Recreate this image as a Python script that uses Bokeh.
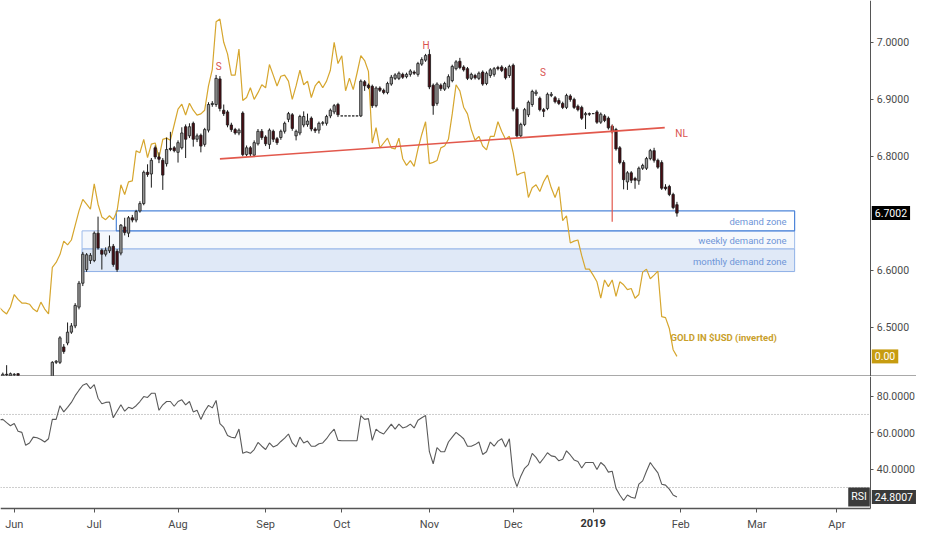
from bokeh.plotting import figure
from bokeh.models import (Range1d, FixedTicker, Label, Span, LinearAxis, ColumnDataSource,
                          PrintfTickFormatter)
from bokeh.layouts import column
from bokeh.embed import file_html
from bokeh.resources import INLINE

# ---------------- data (bar index 0 = 28 May 2018, one bar per weekday) ----------------
opens = [6.401, 6.411, 6.417, 6.414, 6.416, 6.418, 6.408, 6.401, 6.394, 6.398,
         6.392, 6.396, 6.400, 6.406, 6.408, 6.438, 6.438, 6.465, 6.472, 6.491,
         6.502, 6.535, 6.577, 6.601, 6.617, 6.617, 6.665, 6.635, 6.628, 6.634,
         6.642, 6.633, 6.630, 6.676, 6.665, 6.692, 6.688, 6.704, 6.717, 6.772,
         6.769, 6.815, 6.799, 6.793, 6.787, 6.814, 6.815, 6.807, 6.815, 6.852,
         6.836, 6.858, 6.830, 6.837, 6.821, 6.846, 6.891, 6.891, 6.936, 6.881,
         6.878, 6.855, 6.847, 6.841, 6.876, 6.803, 6.815, 6.802, 6.822, 6.844,
         6.834, 6.821, 6.844, 6.831, 6.833, 6.844, 6.865, 6.873, 6.836, 6.841,
         6.855, 6.856, 6.867, 6.848, 6.846, 6.858, 6.858, 6.871, 6.878, 6.891,
         6.871, 6.871, 6.871, 6.871, 6.871, 6.871, 6.931, 6.925, 6.923, 6.889,
         6.920, 6.916, 6.912, 6.927, 6.937, 6.937, 6.944, 6.940, 6.944, 6.948,
         6.944, 6.962, 6.969, 6.979, 6.925, 6.893, 6.925, 6.918, 6.922, 6.933,
         6.954, 6.967, 6.957, 6.954, 6.937, 6.942, 6.937, 6.948, 6.928, 6.942,
         6.944, 6.956, 6.957, 6.954, 6.942, 6.960, 6.883, 6.836, 6.856, 6.873,
         6.891, 6.910, 6.902, 6.882, 6.884, 6.907, 6.903, 6.898, 6.893, 6.886,
         6.906, 6.900, 6.888, 6.886, 6.873, 6.875, 6.875, 6.878, 6.860, 6.871,
         6.867, 6.853, 6.847, 6.815, 6.789, 6.755, 6.771, 6.761, 6.757, 6.779,
         6.779, 6.796, 6.810, 6.793, 6.789, 6.746, 6.747, 6.733, 6.715]
closes = [6.411, 6.417, 6.416, 6.418, 6.417, 6.415, 6.401, 6.394, 6.398, 6.392,
          6.396, 6.400, 6.406, 6.404, 6.438, 6.440, 6.481, 6.457, 6.491, 6.502,
          6.538, 6.577, 6.628, 6.627, 6.626, 6.665, 6.639, 6.628, 6.635, 6.641,
          6.610, 6.601, 6.679, 6.666, 6.692, 6.688, 6.703, 6.717, 6.772, 6.768,
          6.793, 6.799, 6.795, 6.767, 6.812, 6.812, 6.810, 6.824, 6.841, 6.830,
          6.852, 6.830, 6.836, 6.818, 6.847, 6.891, 6.893, 6.937, 6.884, 6.875,
          6.855, 6.847, 6.841, 6.846, 6.803, 6.815, 6.804, 6.824, 6.844, 6.833,
          6.822, 6.846, 6.830, 6.824, 6.844, 6.858, 6.875, 6.849, 6.844, 6.870,
          6.870, 6.862, 6.848, 6.845, 6.858, 6.859, 6.870, 6.881, 6.889, 6.873,
          6.871, 6.871, 6.871, 6.871, 6.871, 6.932, 6.924, 6.921, 6.889, 6.920,
          6.916, 6.912, 6.928, 6.939, 6.943, 6.946, 6.939, 6.944, 6.950, 6.946,
          6.963, 6.970, 6.977, 6.922, 6.889, 6.927, 6.919, 6.928, 6.940, 6.958,
          6.966, 6.956, 6.952, 6.937, 6.944, 6.938, 6.946, 6.927, 6.946, 6.952,
          6.954, 6.954, 6.951, 6.938, 6.958, 6.883, 6.836, 6.856, 6.882, 6.895,
          6.914, 6.913, 6.882, 6.879, 6.909, 6.909, 6.896, 6.893, 6.886, 6.907,
          6.900, 6.886, 6.882, 6.867, 6.875, 6.874, 6.875, 6.860, 6.874, 6.863,
          6.850, 6.843, 6.813, 6.789, 6.759, 6.771, 6.758, 6.758, 6.779, 6.784,
          6.796, 6.810, 6.793, 6.781, 6.744, 6.743, 6.733, 6.710, 6.7002]
highs = [6.414, 6.420, 6.433, 6.420, 6.419, 6.419, 6.410, 6.404, 6.402, 6.401,
         6.400, 6.404, 6.410, 6.409, 6.440, 6.442, 6.484, 6.470, 6.508, 6.507,
         6.542, 6.581, 6.632, 6.630, 6.630, 6.668, 6.694, 6.638, 6.640, 6.661,
         6.646, 6.637, 6.681, 6.692, 6.695, 6.697, 6.706, 6.721, 6.775, 6.786,
         6.797, 6.819, 6.807, 6.797, 6.833, 6.843, 6.818, 6.828, 6.851, 6.856,
         6.858, 6.861, 6.840, 6.840, 6.850, 6.895, 6.897, 6.943, 6.941, 6.891,
         6.881, 6.859, 6.850, 6.849, 6.879, 6.819, 6.818, 6.828, 6.848, 6.848,
         6.837, 6.849, 6.847, 6.834, 6.847, 6.861, 6.878, 6.876, 6.847, 6.873,
         6.879, 6.875, 6.870, 6.851, 6.861, 6.862, 6.873, 6.884, 6.892, 6.894,
         6.871, 6.871, 6.871, 6.871, 6.871, 6.935, 6.934, 6.928, 6.926, 6.923,
         6.923, 6.919, 6.931, 6.943, 6.946, 6.949, 6.947, 6.947, 6.953, 6.951,
         6.966, 6.974, 6.980, 6.988, 6.928, 6.930, 6.928, 6.931, 6.944, 6.961,
         6.969, 6.973, 6.960, 6.957, 6.947, 6.945, 6.949, 6.951, 6.949, 6.955,
         6.957, 6.959, 6.960, 6.957, 6.961, 6.963, 6.886, 6.859, 6.885, 6.898,
         6.917, 6.917, 6.905, 6.885, 6.912, 6.913, 6.906, 6.902, 6.896, 6.910,
         6.909, 6.903, 6.891, 6.889, 6.878, 6.877, 6.875, 6.881, 6.877, 6.874,
         6.870, 6.856, 6.850, 6.818, 6.793, 6.774, 6.774, 6.764, 6.782, 6.787,
         6.799, 6.813, 6.815, 6.796, 6.793, 6.751, 6.750, 6.736, 6.720]
lows = [6.396, 6.406, 6.408, 6.406, 6.408, 6.404, 6.394, 6.388, 6.390, 6.386,
        6.388, 6.391, 6.396, 6.399, 6.404, 6.435, 6.435, 6.453, 6.468, 6.488,
        6.498, 6.531, 6.572, 6.597, 6.611, 6.614, 6.636, 6.601, 6.624, 6.630,
        6.606, 6.597, 6.626, 6.661, 6.658, 6.684, 6.684, 6.701, 6.714, 6.764,
        6.745, 6.795, 6.788, 6.741, 6.782, 6.809, 6.807, 6.789, 6.812, 6.797,
        6.832, 6.817, 6.825, 6.807, 6.817, 6.842, 6.887, 6.887, 6.879, 6.871,
        6.851, 6.843, 6.838, 6.837, 6.800, 6.800, 6.800, 6.799, 6.819, 6.829,
        6.818, 6.813, 6.825, 6.820, 6.829, 6.840, 6.860, 6.845, 6.828, 6.837,
        6.851, 6.852, 6.844, 6.841, 6.840, 6.854, 6.854, 6.867, 6.874, 6.869,
        6.871, 6.871, 6.871, 6.871, 6.871, 6.869, 6.915, 6.918, 6.885, 6.886,
        6.913, 6.909, 6.909, 6.924, 6.934, 6.934, 6.936, 6.937, 6.940, 6.943,
        6.940, 6.959, 6.966, 6.918, 6.873, 6.889, 6.915, 6.915, 6.919, 6.930,
        6.951, 6.953, 6.949, 6.934, 6.934, 6.935, 6.934, 6.924, 6.925, 6.938,
        6.940, 6.951, 6.948, 6.935, 6.938, 6.879, 6.832, 6.833, 6.853, 6.869,
        6.887, 6.906, 6.879, 6.869, 6.881, 6.904, 6.893, 6.890, 6.883, 6.883,
        6.896, 6.883, 6.879, 6.864, 6.848, 6.871, 6.875, 6.857, 6.857, 6.860,
        6.847, 6.840, 6.810, 6.786, 6.742, 6.741, 6.753, 6.743, 6.750, 6.776,
        6.776, 6.793, 6.789, 6.778, 6.741, 6.740, 6.730, 6.707, 6.694]

gold_usd = [1292.7, 1294.4, 1295.7, 1292.7, 1287.3, 1289.4, 1291.0, 1291.0, 1291.5, 1293.6,
            1294.8, 1290.6, 1293.6, 1295.7, 1275.5, 1273.4, 1270.0, 1264.2, 1265.8, 1263.7,
            1257.4, 1251.1, 1246.1, 1248.2, 1250.3, 1239.4, 1248.2, 1253.7, 1254.9, 1253.2,
            1254.9, 1251.1, 1239.8, 1244.0, 1238.5, 1238.1, 1225.1, 1225.9, 1220.1, 1228.0,
            1222.2, 1221.7, 1228.0, 1220.1, 1219.6, 1220.5, 1213.8, 1207.0, 1204.9, 1209.6,
            1204.5, 1207.5, 1209.6, 1209.1, 1207.5, 1197.0, 1189.8, 1169.2, 1168.0, 1178.1,
            1183.1, 1192.3, 1192.3, 1181.0, 1203.3, 1202.0, 1197.8, 1202.8, 1199.9, 1196.5,
            1197.8, 1187.7, 1192.3, 1197.0, 1192.8, 1192.3, 1194.9, 1202.8, 1197.0, 1190.2,
            1196.5, 1194.9, 1202.0, 1197.0, 1194.9, 1197.8, 1194.9, 1190.2, 1178.1, 1187.3,
            1183.9, 1199.1, 1193.6, 1198.6, 1191.5, 1183.9, 1186.0, 1190.7, 1221.7, 1215.0,
            1223.8, 1221.7, 1219.6, 1223.8, 1224.3, 1219.6, 1228.5, 1231.4, 1229.3, 1231.8,
            1224.3, 1218.0, 1212.5, 1230.6, 1230.1, 1229.3, 1223.8, 1223.0, 1220.1, 1209.1,
            1196.5, 1199.1, 1206.2, 1209.1, 1215.9, 1220.5, 1218.8, 1223.0, 1224.7, 1218.8,
            1218.8, 1212.5, 1216.7, 1220.1, 1218.8, 1225.9, 1235.6, 1234.8, 1234.3, 1245.3,
            1241.1, 1239.8, 1242.7, 1238.5, 1235.6, 1241.1, 1245.3, 1240.6, 1255.3, 1253.2,
            1265.0, 1264.2, 1263.7, 1270.5, 1276.3, 1276.3, 1278.9, 1281.8, 1288.9, 1281.0,
            1283.9, 1281.0, 1288.1, 1281.8, 1283.1, 1285.2, 1284.7, 1288.9, 1287.3, 1277.6,
            1276.3, 1280.5, 1278.9, 1277.2, 1296.9, 1297.3, 1302.0, 1311.2, 1314.1]

rsi = [67.0, 67.3, 65.5, 63.8, 65.0, 60.8, 60.2, 53.1, 54.4, 57.6,
       57.2, 56.3, 54.9, 56.7, 67.3, 67.3, 74.8, 71.4, 73.9, 76.6,
       80.3, 83.3, 86.0, 86.9, 84.2, 86.4, 78.9, 75.9, 76.6, 76.8,
       68.2, 71.8, 75.3, 71.8, 73.9, 73.2, 74.8, 77.1, 79.8, 79.3,
       81.6, 81.6, 72.3, 75.3, 77.1, 77.1, 74.5, 77.1, 78.0, 75.3,
       77.1, 71.4, 72.3, 67.3, 71.8, 75.0, 73.6, 77.7, 65.0, 62.9,
       58.5, 57.5, 57.2, 62.0, 48.7, 49.6, 48.7, 50.8, 54.7, 52.6,
       50.8, 54.4, 52.2, 53.1, 55.2, 57.0, 59.3, 54.4, 52.2, 57.6,
       54.4, 55.4, 52.6, 52.6, 54.0, 54.4, 56.7, 59.7, 62.0, 55.8,
       55.6, 55.6, 55.6, 55.6, 55.6, 69.4, 67.3, 67.7, 55.8, 62.0,
       60.2, 59.3, 62.0, 64.7, 62.0, 64.7, 62.6, 63.3, 64.7, 62.6,
       66.8, 68.2, 69.4, 49.6, 43.0, 51.9, 49.6, 49.6, 54.9, 57.6,
       60.2, 58.5, 56.7, 52.6, 52.6, 53.5, 54.9, 48.1, 49.6, 54.9,
       52.6, 55.4, 56.7, 52.2, 56.7, 36.2, 30.5, 36.2, 40.5, 42.5,
       48.7, 46.5, 43.3, 46.0, 49.0, 47.3, 46.9, 44.6, 45.5, 50.1,
       47.8, 45.1, 44.2, 40.7, 43.7, 43.7, 43.7, 39.8, 43.7, 41.9,
       38.4, 38.9, 29.5, 25.9, 22.9, 25.9, 24.7, 24.1, 31.8, 33.6,
       38.9, 43.7, 40.7, 38.0, 31.8, 31.3, 29.1, 25.9, 24.8007]

month_ticks = [4, 25, 47, 70, 90, 113, 135, 156, 179, 199, 220]
month_labels = ["Jun", "Jul", "Aug", "Sep", "Oct", "Nov", "Dec", "2019", "Feb", "Mar", "Apr"]
price_ticks = [6.5, 6.6, 6.8, 6.9, 7.0]
rsi_ticks = [40, 60, 80]
rsi_levels = [70, 30]

# drawings on the chart
zone_names = ["demand zone", "weekly demand zone", "monthly demand zone"]
zone_left = [30.8, 21.8, 21.8]
zone_right = [208.9, 208.9, 208.9]
zone_top = [6.704, 6.669, 6.6375]
zone_bottom = [6.669, 6.6375, 6.5975]
neck_x = [58.0, 174.8]
neck_y = [6.7955, 6.8505]
spike_x = [161, 161]
spike_y = [6.855, 6.6852]
hs_text = ["S", "H", "S", "NL"]
hs_x = [57.7, 112.1, 142.8, 179.2]
hs_y = [6.958, 6.9954, 6.9477, 6.8403]

FONT = "Roboto"
AX = "#4a4a4a"
X0, X1 = 0.39, 240.9      # visible bar-index range (incl. price-scale strip)
AXIS_X = 228.9            # where the right price scale sits
idx = list(range(len(closes)))


def style_axis(ax, standoff=3):
    ax.axis_line_color = "#555555"
    ax.major_tick_line_color = "#555555"
    ax.major_tick_in = 0
    ax.major_tick_out = 3
    ax.minor_tick_line_color = None
    ax.major_label_text_font = FONT
    ax.major_label_text_font_size = "10.5px"
    ax.major_label_text_color = AX
    ax.major_label_standoff = standoff


def value_box(fig, y, text, color, y_range_name="default", align="left", xo=1):
    fig.add_layout(Label(x=AXIS_X, y=y, y_range_name=y_range_name, x_offset=xo, text=text,
                         text_align=align, text_baseline="middle", text_font=FONT,
                         text_font_size="10.5px", text_color="white",
                         background_fill_color=color, padding=(3, 3)))


# ---------------- price pane ----------------
p = figure(frame_width=916, frame_height=376, x_range=Range1d(X0, X1),
           y_range=Range1d(6.4131, 7.0738), output_backend="svg", toolbar_location=None,
           x_axis_location=None, y_axis_location=None, min_border=0)
p.outline_line_color = None
p.grid.visible = False
p.extra_y_ranges = {"gold": Range1d(start=1322.8, end=1160.0)}

ya = LinearAxis(fixed_location=AXIS_X, ticker=FixedTicker(ticks=price_ticks),
                formatter=PrintfTickFormatter(format="%.4f"))
style_axis(ya)
p.add_layout(ya, "right")

# zones
p.quad(left=zone_left[2:], right=zone_right[2:], top=zone_top[2:], bottom=zone_bottom[2:],
       fill_color="#dbe5f6", fill_alpha=0.85, line_color="#8eb0e6", line_width=1)
p.quad(left=zone_left[1:2], right=zone_right[1:2], top=zone_top[1:2], bottom=zone_bottom[1:2],
       fill_color="#f4f7fc", fill_alpha=0.9, line_color="#9dbbea", line_width=1)
p.quad(left=zone_left[:1], right=zone_right[:1], top=zone_top[:1], bottom=zone_bottom[:1],
       fill_alpha=0.0, line_color="#4f86d9", line_width=1.2)
for k in range(3):
    p.add_layout(Label(x=zone_right[k], y=(zone_top[k] + zone_bottom[k]) / 2, x_offset=-8,
                       y_offset=-1, text=zone_names[k], text_align="right",
                       text_baseline="middle", text_font=FONT, text_font_size="9.5px",
                       text_color="#6f96d8"))

# gold line (own inverted scale)
p.line(idx, gold_usd, y_range_name="gold", line_color="#d6a62e", line_width=1.2)

# candles
up = [c >= o for o, c in zip(opens, closes)]
src = ColumnDataSource(dict(
    x=idx, h=highs, l=lows,
    top=[max(o, c) for o, c in zip(opens, closes)],
    bot=[min(o, c) for o, c in zip(opens, closes)],
    fill=["#9a9a9a" if u else "#4a0c13" for u in up]))
p.segment(x0="x", x1="x", y0="l", y1="h", source=src, line_color="#1a1a1a", line_width=1)
p.vbar(x="x", width=0.62, top="top", bottom="bot", source=src, fill_color="fill",
       line_color="#1a1a1a", line_width=0.8)

# head & shoulders drawing
p.line(neck_x, neck_y, line_color="#e2584c", line_width=1.6)
p.line(spike_x, spike_y, line_color="#e2584c", line_width=1.2)
for t, xx, yy in zip(hs_text, hs_x, hs_y):
    p.add_layout(Label(x=xx, y=yy, text=t, text_align="center", text_baseline="middle",
                       text_font=FONT, text_font_size="10px", text_color="#d9534f"))

p.add_layout(Label(x=176.3, y=6.4813, text="GOLD IN $USD (inverted)", text_align="left",
                   text_baseline="middle", text_font=FONT, text_font_size="9.5px",
                   text_font_style="bold", text_color="#c9a02c"))

# pane separator
p.add_layout(Span(location=6.4136, dimension="width", line_color="#555555", line_width=1.5))

# last-value boxes on the price scale
value_box(p, closes[-1], "6.7002", "#000000")
value_box(p, gold_usd[-1], "0.00", "#c79c10", y_range_name="gold")

# ---------------- RSI pane ----------------
r = figure(frame_width=916, frame_height=158, x_range=p.x_range,
           y_range=Range1d(4.24, 90.8), output_backend="svg", toolbar_location=None,
           x_axis_location=None, y_axis_location=None, min_border=0)
r.outline_line_color = None
r.grid.visible = False
r.segment(x0=[X0, X0], x1=[AXIS_X, AXIS_X], y0=rsi_levels, y1=rsi_levels,
          line_color="#9a9a9a", line_width=1, line_dash="1 2")
r.line(idx, rsi, line_color="#5a5a5a", line_width=1.1)

ry = LinearAxis(fixed_location=AXIS_X, ticker=FixedTicker(ticks=rsi_ticks),
                formatter=PrintfTickFormatter(format="%.4f"), bounds=(18.6, 90.8))
style_axis(ry)
r.add_layout(ry, "right")

rx = LinearAxis(fixed_location=18.6, ticker=FixedTicker(ticks=month_ticks),
                bounds=(X0, AXIS_X))
style_axis(rx, standoff=6)
rx.major_tick_out = 4
rx.major_label_text_font_size = "11px"
rx.axis_line_width = 1.5
rx.major_label_overrides = {t: ("" if l == "2019" else l) for t, l in zip(month_ticks, month_labels)}
r.add_layout(rx, "below")

r.add_layout(Label(x=month_ticks[7], y=10.64, text="2019", text_align="center",
                   text_baseline="middle", text_font=FONT, text_font_size="11px",
                   text_font_style="bold", text_color="#333333"))
value_box(r, rsi[-1], "24.8007", "#3a3a3a")
value_box(r, rsi[-1], "RSI", "#3a3a3a", align="right", xo=-1)

layout = column(p, r, spacing=0)
open("out.html", "w").write(file_html(layout, INLINE))
